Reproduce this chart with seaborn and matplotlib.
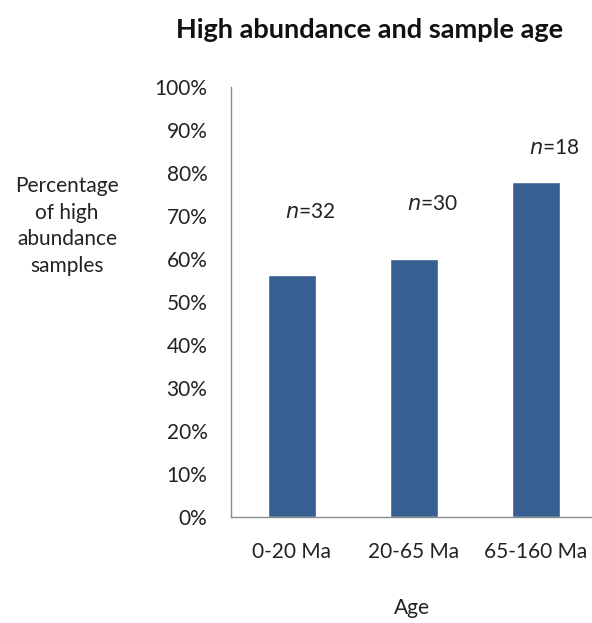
import matplotlib
matplotlib.use("Agg")
import matplotlib.pyplot as plt
import seaborn as sns
import pandas as pd

age_groups = ["0-20 Ma", "20-65 Ma", "65-160 Ma"]
pct_high = [56.25, 60.0, 77.8]
sample_counts = [32, 30, 18]
label_heights = [71.0, 72.8, 85.8]
yticks = list(range(0, 101, 10))
ytick_labels = [f"{v}%" for v in yticks]

sns.set_theme(style="white")
plt.rcParams["font.family"] = ["Lato", "DejaVu Sans"]

W, H = 592, 623
fig = plt.figure(figsize=(W / 100, H / 100), dpi=100)
ax_left, ax_right = 231, 597
ax_top, ax_bottom = 87, 517
ax = fig.add_axes([ax_left / W, 1 - ax_bottom / H, (ax_right - ax_left) / W, (ax_bottom - ax_top) / H])

df = pd.DataFrame({"age": age_groups, "pct": pct_high})
sns.barplot(data=df, x="age", y="pct", color="#375f92", saturation=1, width=0.4, ax=ax)

ax.set_ylim(0, 100)
ax.set_xlim(-0.5, 2.5)
ax.set_yticks(yticks)
ax.set_yticklabels(ytick_labels)
ax.tick_params(axis="y", length=0, pad=17, labelsize=15, colors="#222222")
ax.tick_params(axis="x", length=0, pad=18, labelsize=15, colors="#222222")
for side in ["top", "right"]:
    ax.spines[side].set_visible(False)
for side in ["left", "bottom"]:
    ax.spines[side].set_color("#8c8c8c")
    ax.spines[side].set_linewidth(1.0)
ax.set_xlabel("")
ax.set_ylabel("")

for i, (n, h) in enumerate(zip(sample_counts, label_heights)):
    ax.text(i + 0.15, h, f"$n$={n}", ha="center", va="center", fontsize=15, color="#222222")

fig.text(370 / W, 1 - 30 / H, "High abundance and sample age", ha="center", va="center",
         fontsize=19.5, fontweight="bold", color="#111111")
fig.text(67 / W, 1 - 226 / H, "Percentage\nof high\nabundance\nsamples", ha="center", va="center",
         fontsize=15, color="#222222", linespacing=1.4)
fig.text(412 / W, 1 - 608 / H, "Age", ha="center", va="center", fontsize=15, color="#222222")

fig.savefig("out.png", dpi=100, facecolor="white")
